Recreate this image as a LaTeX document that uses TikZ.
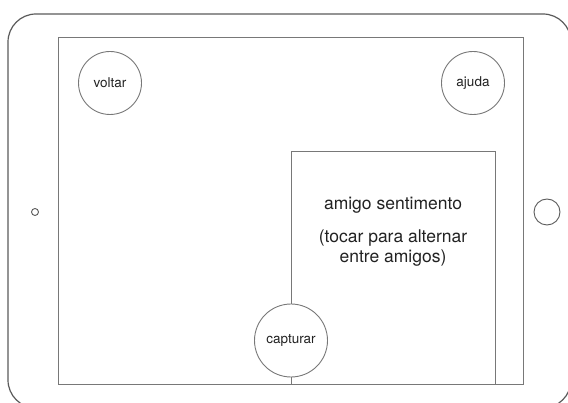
\documentclass[tikz,border=0pt]{standalone}
\usepackage{fontspec}
\setmainfont{TeX Gyre Heros}
\definecolor{frame}{HTML}{5A5A5A}
\definecolor{screenline}{HTML}{787878}
\definecolor{txt}{HTML}{222222}
\tikzset{
  btn/.style={circle, draw=screenline, line width=0.9pt, fill=white, inner sep=0pt, text=txt, font=\fontsize{13.5}{16}\selectfont},
  bigtxt/.style={text=txt, font=\fontsize{17.5}{20}\selectfont, inner sep=0pt, anchor=base},
}
\begin{document}
\begin{tikzpicture}[x=1pt, y=-1pt]
\useasboundingbox (0,0) rectangle (568,403);
\clip (0,0) rectangle (568,403);
% tablet body
\draw[frame, line width=1.2pt, rounded corners=28pt] (8,14) rectangle (571,408);
% screen
\draw[screenline, line width=1pt] (58,38) rectangle (523,385);
% side buttons
\node[circle, draw=frame, line width=0.9pt, minimum size=7pt, inner sep=0pt] (cam) at (35,212) {};
\node[circle, draw=frame, line width=0.9pt, minimum size=26pt, inner sep=0pt] (home) at (547,212) {};
% top buttons
\node[btn, minimum size=63pt] (voltar) at (110,83) {voltar};
\node[btn, minimum size=63pt] (ajuda) at (473,83) {ajuda};
% friend panel
\coordinate (panelbl) at (291,385);
\coordinate (paneltr) at (495,152);
\draw[screenline, line width=1pt] (panelbl) |- (paneltr) -- (paneltr |- panelbl);
\node[bigtxt] (t1) at (393,209.5) {amigo sentimento};
\node[bigtxt] (t2) at (393,242.5) {(tocar para alternar};
\node[bigtxt] (t3) at (393,262.5) {entre amigos)};
% capture button
\node[btn, minimum size=73pt] (capturar) at (291,340.5) {capturar};
\end{tikzpicture}
\end{document}
